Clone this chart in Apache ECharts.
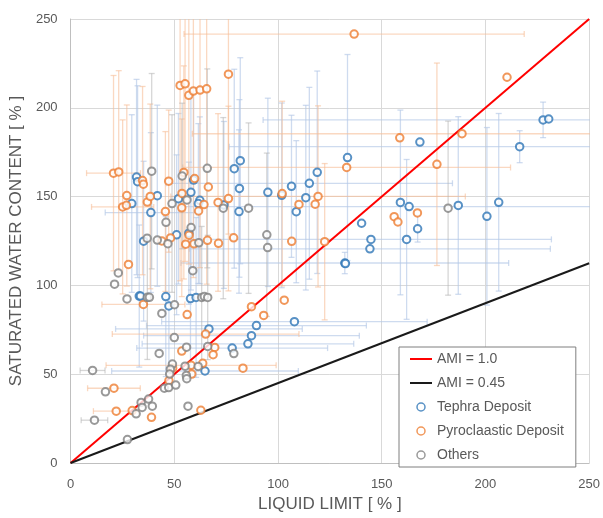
<!DOCTYPE html>
<html>
<head>
<meta charset="utf-8">
<script src="https://cdn.jsdelivr.net/npm/echarts@6/dist/echarts.min.js"></script>
<style>
html,body{margin:0;padding:0;background:#fff;}
#chart{width:603px;height:518px;}
</style>
</head>
<body>
<div id="chart"></div>
<script>
// Each point: [liquid limit, saturated water content, sd of liquid limit, sd of water content]
const tephraData = [
  [31.8,161,0,55],[32.3,158.4,0,54],[29.5,146.1,0,50],[38.7,141,22,45],[41.8,150.5,0,51],
  [52,148.8,0,48],[58,152.4,0,55],[59.3,159.3,0,52],[62.3,147.9,0,47],[61.6,146.1,0,45],
  [73.9,145.3,0,47],[78.9,165.7,0,56],[81.8,170.2,0,58],[81.4,154.6,0,50],[81.2,141.6,0,46],
  [95.1,152.4,0,53],[101.8,150.7,0,52],[106.5,155.8,0,40],[108.8,141.5,0,40],[113.4,149.4,0,52],
  [115.1,157.5,69,54],[118.9,163.7,0,57],[133.5,172,0,58],[168.4,180.7,0,0],[159,146.7,0,52],
  [163.2,144.4,110,0],[167.3,131.9,0,7.5],[186.9,145,0,50],[200.7,138.9,0,50],[206.4,146.8,0,50],
  [216.5,178.1,140,9],[227.8,193.2,135,10],[230.5,193.7,0,0],[140.3,135,0,0],[144.8,125.9,87,0],
  [144.3,120.6,87,0],[162,125.9,0,45],[132.2,112.6,79,6],[132.5,112.3,0,0],[35.2,124.9,0,45],
  [51.1,128.5,0,45],[57,129.4,0,40],[33.1,94,0,40],[33.7,94,0,0],[45.9,93.7,0,45],
  [47.4,88.4,0,35],[57.8,92.6,0,40],[60.5,93.2,0,45],[66.7,75.5,45,0],[77.9,64.7,46,0],
  [85.5,67.1,51,0],[87.2,71.7,52,0],[89.6,77.4,53,0],[107.9,79.6,64,0],[64.8,51.8,45,0]
];
const pyroData = [
  [76.1,218.9,0,90],[52.8,212.6,0,110],[55.2,213.5,0,100],[57,207,0,95],[59.2,209.4,0,105],
  [62.4,210,0,100],[65.6,210.7,0,110],[20.7,163.2,13,55],[23.2,163.9,0,57],[34.7,159,0,53],
  [35.1,157,0,0],[27.1,150.6,0,51],[25.1,144.2,15,49],[26.9,145.1,0,0],[37,146.9,0,0],
  [38.4,150.1,0,52],[47.3,158.7,0,40],[54.6,163.6,0,60],[53.7,151.8,0,0],[53.6,143.7,0,50],
  [59.8,160.2,0,0],[66.4,155.4,0,0],[64.3,145.5,0,0],[61.7,141.9,0,0],[45.7,141.6,0,45],
  [71.1,146.7,0,50],[76.1,148.9,0,52],[44,125,0,0],[48.2,126.7,0,0],[55.5,123.2,0,0],
  [59.5,123.4,0,0],[66,125.4,0,0],[71.3,123.7,0,0],[78.6,126.8,0,0],[102,151.7,0,52],
  [106.6,124.8,0,0],[136.7,241.5,82,0],[210.4,217.2,0,0],[188.7,185.4,130,0],[158.7,183.1,0,0],
  [133.1,166.4,79,0],[176.6,168.2,0,57],[119.3,150.1,71,51],[117.9,145.7,0,0],[110.1,145.6,0,0],
  [156,138.7,0,0],[157.8,135.7,0,0],[167.2,140.8,0,0],[122.5,124.6,0,44],[57.1,128.3,0,0],
  [27.9,111.8,0,0],[35.1,89.3,20,0],[56.2,83.6,0,0],[65.1,72.6,45,0],[69.5,65.1,0,0],
  [68.7,61,0,0],[53.6,63,0,0],[83.1,53.4,0,0],[87.2,88,0,0],[93.1,83.1,0,0],
  [103,91.7,0,0],[63.7,56.1,0,0],[58.1,55,41,0],[58.4,50.1,0,0],[49.2,53.4,0,0],
  [47.4,46.4,0,0],[20.9,42.1,12.7,0],[22,29.2,11,0],[29.7,29.5,0,0],[39,25.7,0,0],
  [62.8,29.7,0,0]
];
const othersData = [
  [39.1,164.3,0,55],[53.8,161.6,0,41],[65.9,165.9,0,56],[48.9,146.1,0,50],[56.1,148.1,0,0],
  [73.6,143.5,0,51],[85.8,143.5,0,48],[46,135.5,0,0],[58.1,132.6,0,0],[36.9,126.5,0,0],
  [41.8,125.5,0,0],[46.9,123.5,0,0],[61.8,124,0,0],[94.6,128.5,0,46],[95,121.3,0,0],
  [182,143.5,0,49],[23,107,0,0],[21.2,100.7,0,0],[58.9,108.3,0,0],[27.2,92.4,0,0],
  [37,93.3,0,35],[38,93.3,0,0],[50.1,89.1,0,0],[63.2,93.2,0,40],[64.5,93.7,0,0],
  [66.1,93.2,0,35],[44,84.2,0,0],[50,70.6,0,0],[55.9,65.2,0,0],[66.1,65.6,0,0],
  [78.7,61.6,0,0],[42.7,61.7,0,0],[49.1,55.7,0,0],[48.1,52.8,0,0],[47.8,50.1,0,0],
  [55.2,54.5,0,0],[61.5,54.4,0,0],[55.8,49.3,0,0],[56,47.5,0,0],[45.2,42.1,0,0],
  [47.3,42.5,0,0],[50.7,43.9,0,0],[10.6,52.1,6,0],[16.8,40.1,0,0],[34,34.1,0,0],
  [37.6,36,0,0],[34.5,31.3,0,0],[31.6,27.7,0,0],[39.4,32,0,0],[56.6,32,0,0],
  [11.5,24.1,6.4,0],[27.4,13.2,0,0]
];
const amiValues = [1.0, 0.45];
const amiNames = ['AMI = 1.0', 'AMI = 0.45'];
const lineX = [0, 250];
const axisTicks = [0, 50, 100, 150, 200, 250];

const textColor = '#595959';
const font = 'Liberation Sans';

function errRenderer(color) {
  return function (params, api) {
    const x = api.value(0), y = api.value(1), sx = api.value(2), sy = api.value(3);
    const children = [];
    const cap = 3;
    const st = { stroke: color, lineWidth: 1.3 };
    if (sy > 0) {
      const t = api.coord([x, y + sy]), b = api.coord([x, y - sy]);
      children.push({ type: 'line', shape: { x1: t[0], y1: t[1], x2: b[0], y2: b[1] }, style: st });
      children.push({ type: 'line', shape: { x1: t[0] - cap, y1: t[1], x2: t[0] + cap, y2: t[1] }, style: st });
      children.push({ type: 'line', shape: { x1: b[0] - cap, y1: b[1], x2: b[0] + cap, y2: b[1] }, style: st });
    }
    if (sx > 0) {
      const l = api.coord([x - sx, y]), r = api.coord([x + sx, y]);
      children.push({ type: 'line', shape: { x1: l[0], y1: l[1], x2: r[0], y2: r[1] }, style: st });
      children.push({ type: 'line', shape: { x1: l[0], y1: l[1] - cap, x2: l[0], y2: l[1] + cap }, style: st });
      children.push({ type: 'line', shape: { x1: r[0], y1: r[1] - cap, x2: r[0], y2: r[1] + cap }, style: st });
    }
    return { type: 'group', children: children };
  };
}

const groups = [
  { name: 'Tephra Deposit', data: tephraData, color: '#2e75b6', err: 'rgba(180,199,231,0.65)' },
  { name: 'Pyroclaastic Deposit', data: pyroData, color: '#ed7d31', err: 'rgba(246,190,152,0.6)' },
  { name: 'Others', data: othersData, color: '#7f7f7f', err: 'rgba(180,180,180,0.55)' }
];

const series = [];
groups.forEach(function (g) {
  series.push({
    type: 'custom', name: g.name + ' err', data: g.data, clip: true, z: 1,
    renderItem: errRenderer(g.err), silent: true,
    encode: { x: 0, y: 1 }
  });
});
amiValues.forEach(function (a, i) {
  series.push({
    type: 'line', name: amiNames[i], z: 3,
    data: lineX.map(function (x) { return [x, a * x]; }),
    showSymbol: false, symbol: 'none',
    color: i === 0 ? '#ff0000' : '#1a1a1a',
    lineStyle: { width: 2, color: i === 0 ? '#ff0000' : '#1a1a1a' }
  });
});
groups.forEach(function (g) {
  series.push({
    type: 'scatter', name: g.name, z: 4,
    data: g.data.map(function (d) { return [d[0], d[1]]; }),
    symbol: 'circle', symbolSize: 7.5,
    color: g.color,
    itemStyle: { color: '#ffffff', borderColor: g.color, borderWidth: 2 }
  });
});

const axisCommon = {
  type: 'value', min: 0, max: 250, interval: 50,
  axisLine: { show: true, lineStyle: { color: '#bfbfbf', width: 1 } },
  axisTick: { show: false },
  splitLine: { show: true, lineStyle: { color: '#d9d9d9', width: 1 } },
  axisLabel: { color: textColor, fontSize: 13, fontFamily: font },
  nameLocation: 'middle',
  nameTextStyle: { color: textColor, fontSize: 17, fontFamily: font }
};

const chart = echarts.init(document.getElementById('chart'), null, { renderer: 'canvas' });
chart.setOption({
  animation: false,
  backgroundColor: '#ffffff',
  grid: { left: 70, right: 11, top: 19, bottom: 48, containLabel: false },
  xAxis: Object.assign({}, axisCommon, {
    name: 'LIQUID LIMIT [ % ]', nameGap: 33,
    axisLabel: Object.assign({}, axisCommon.axisLabel, { margin: 15 })
  }),
  yAxis: Object.assign({}, axisCommon, {
    name: 'SATURATED WATER CONTENT [ % ]', nameGap: 41,
    axisLabel: Object.assign({}, axisCommon.axisLabel, { margin: 13 })
  }),
  legend: {
    orient: 'vertical', left: 399, top: 347,
    backgroundColor: '#ffffff', borderColor: '#7f7f7f', borderWidth: 1,
    padding: [5, 12, 5, 11], itemGap: 10, itemWidth: 22, itemHeight: 8,
    textStyle: { color: textColor, fontSize: 14, fontFamily: font },
    data: [
      { name: 'AMI = 1.0', icon: 'path://M0,0h22v2h-22z' },
      { name: 'AMI = 0.45', icon: 'path://M0,0h22v2h-22z' },
      { name: 'Tephra Deposit', icon: 'circle', itemStyle: { color: '#fff', borderColor: '#2e75b6', borderWidth: 1.5 } },
      { name: 'Pyroclaastic Deposit', icon: 'circle', itemStyle: { color: '#fff', borderColor: '#ed7d31', borderWidth: 1.5 } },
      { name: 'Others', icon: 'circle', itemStyle: { color: '#fff', borderColor: '#7f7f7f', borderWidth: 1.5 } }
    ]
  },
  series: series
});
</script>
</body>
</html>
